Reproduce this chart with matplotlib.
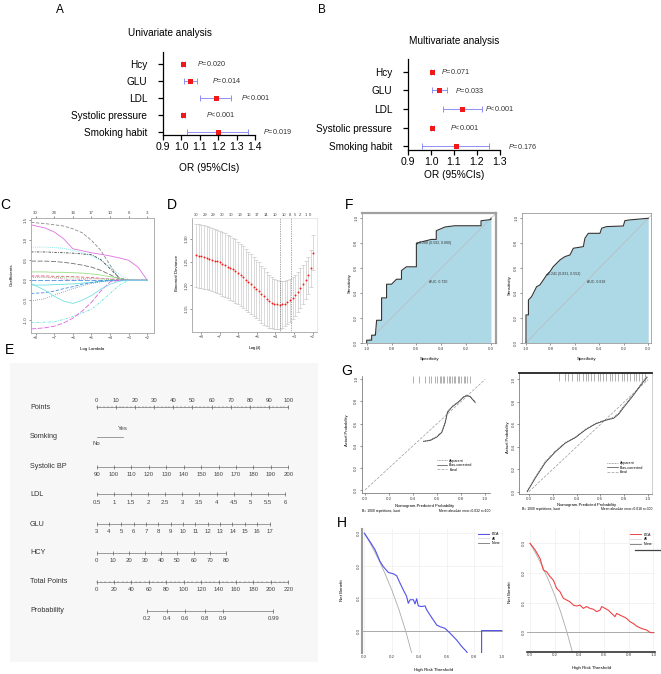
import numpy as np
import matplotlib
matplotlib.use('Agg')
import matplotlib.pyplot as plt
from matplotlib.lines import Line2D

plt.rcParams['font.family'] = ['Liberation Sans', 'DejaVu Sans']
plt.rcParams['mathtext.fontset'] = 'custom'
plt.rcParams['mathtext.rm'] = 'Liberation Sans'
plt.rcParams['mathtext.it'] = 'Liberation Sans:italic'

# ---------------- A / B : forest plots ----------------
forest_vars = ['Hcy', 'GLU', 'LDL', 'Systolic pressure', 'Smoking habit']
uni_or = [1.011, 1.045, 1.187, 1.011, 1.199]
uni_lo = [1.005, 1.015, 1.100, 1.005, 1.031]
uni_hi = [1.017, 1.085, 1.269, 1.017, 1.364]
uni_p = ['=0.020', '=0.014', '<0.001', '<0.001', '=0.019']
multi_or = [1.006, 1.035, 1.135, 1.006, 1.109]
multi_lo = [1.001, 1.003, 1.053, 1.001, 0.963]
multi_hi = [1.011, 1.070, 1.220, 1.011, 1.254]
multi_p = ['=0.071', '=0.033', '<0.001', '<0.001', '=0.176']

# ---------------- C : lasso coefficient paths ----------------
lasso_loglam = [-8.25, -7.5, -7, -6.5, -6, -5.5, -5, -4.5, -4, -3.5, -3, -2.5, -2]
path_pink1 = [1.39, 1.31, 1.21, 1.04, 0.79, 0.74, 0.69, 0.65, 0.61, 0.56, 0.50, 0.33, 0.0]
path_grey1 = [1.45, 1.42, 1.39, 1.36, 1.29, 1.19, 1.00, 0.75, 0.38, 0.02, 0, 0, 0]
path_cyan1 = [0.83, 0.83, 0.82, 0.80, 0.75, 0.69, 0.62, 0.50, 0.33, 0.14, 0.02, 0, 0]
path_black1 = [0.71, 0.71, 0.70, 0.69, 0.68, 0.66, 0.64, 0.52, 0.29, 0.06, 0, 0, 0]
path_grey2 = [0.48, 0.48, 0.47, 0.45, 0.42, 0.38, 0.33, 0.25, 0.14, 0.03, 0, 0, 0]
path_green1 = [0.21, 0.21, 0.20, 0.20, 0.19, 0.18, 0.16, 0.13, 0.09, 0.05, 0.01, 0, 0]
path_red1 = [0.11, 0.11, 0.10, 0.10, 0.09, 0.08, 0.07, 0.05, 0.03, 0.01, 0, 0, 0]
path_green2 = [0.07, 0.07, 0.07, 0.06, 0.06, 0.05, 0.04, 0.03, 0.02, 0.01, 0, 0, 0]
path_pink2 = [0.10, 0.09, 0.06, 0.03, 0.01, 0.02, 0.04, 0.05, 0.04, 0.02, 0, 0, 0]
path_blue0 = [0, 0, 0, 0, 0, 0, 0, 0, 0, 0, 0, 0, 0]
path_cyan2 = [-0.12, -0.12, -0.11, -0.10, -0.09, -0.07, -0.05, -0.03, -0.01, 0, 0, 0, 0]
path_blue1 = [-0.33, -0.31, -0.27, -0.21, -0.16, -0.10, -0.06, -0.02, 0, 0, 0, 0, 0]
path_blue2 = [-0.52, -0.46, -0.37, -0.29, -0.21, -0.14, -0.08, -0.04, -0.01, 0, 0, 0, 0]
path_cyan3 = [-1.06, -1.05, -1.04, -0.98, -0.91, -0.82, -0.72, -0.54, -0.33, -0.12, 0, 0, 0]
path_pink3 = [-1.22, -1.19, -1.15, -1.07, -0.95, -0.77, -0.55, -0.27, -0.04, 0, 0, 0, 0]
path_cyan4 = [-0.08, -0.25, -0.40, -0.52, -0.58, -0.50, -0.38, -0.22, -0.10, -0.02, 0, 0, 0]
lasso_top_ticks = [-8, -7, -6, -5, -4, -3, -2]
lasso_top_df = ['30', '24', '16', '17', '10', '6', '3']

# ---------------- D : cross-validation ----------------
cv_loglam = [-8.25, -8.11, -7.97, -7.83, -7.69, -7.55, -7.41, -7.27, -7.13, -6.99,
             -6.85, -6.71, -6.57, -6.43, -6.29, -6.15, -6.01, -5.87, -5.73, -5.59,
             -5.45, -5.31, -5.17, -5.03, -4.89, -4.75, -4.61, -4.47, -4.33, -4.19,
             -4.05, -3.91, -3.77, -3.63, -3.49, -3.35, -3.21, -3.07, -2.93, -2.79,
             -2.65, -2.51, -2.37, -2.23, -2.09, -1.95]
cv_dev = [1.264, 1.263, 1.262, 1.261, 1.259, 1.257, 1.255, 1.253, 1.251, 1.249,
          1.246, 1.243, 1.240, 1.237, 1.234, 1.230, 1.226, 1.222, 1.217, 1.212,
          1.207, 1.202, 1.197, 1.192, 1.187, 1.181, 1.176, 1.171, 1.166, 1.163,
          1.160, 1.159, 1.158, 1.159, 1.161, 1.164, 1.168, 1.173, 1.179, 1.186,
          1.194, 1.202, 1.211, 1.221, 1.236, 1.270]
cv_se = [0.068, 0.068, 0.068, 0.068, 0.068, 0.068, 0.068, 0.068, 0.068, 0.068,
         0.068, 0.068, 0.068, 0.068, 0.068, 0.068, 0.067, 0.066, 0.066, 0.065,
         0.065, 0.064, 0.063, 0.063, 0.062, 0.061, 0.060, 0.058, 0.057, 0.055,
         0.054, 0.053, 0.052, 0.050, 0.049, 0.047, 0.046, 0.045, 0.044, 0.043,
         0.043, 0.042, 0.041, 0.040, 0.039, 0.038]
cv_lambda_min = -3.77
cv_lambda_1se = -3.16
cv_top_loglam = [-8.25, -7.80, -7.32, -6.87, -6.37, -5.89, -5.44, -4.99, -4.49, -4.04,
                 -3.56, -3.20, -2.93, -2.66, -2.37, -2.12]
cv_top_nzero = ['30', '29', '29', '30', '30', '19', '16', '17', '14', '10',
                '10', '8', '5', '2', '1', '0']

# ---------------- E : nomogram ----------------
nomo_rows = ['Points', 'Somking', 'Systolic BP', 'LDL', 'GLU', 'HCY', 'Total Points', 'Probability']
points_ticks = [0, 10, 20, 30, 40, 50, 60, 70, 80, 90, 100]
smoke_levels = ['No', 'Yes']
smoke_yes_pts = 13.8
sbp_ticks = [90, 100, 110, 120, 130, 140, 150, 160, 170, 180, 190, 200]
sbp_max_pts = 100.0
ldl_ticks = [0.5, 1, 1.5, 2, 2.5, 3, 3.5, 4, 4.5, 5, 5.5, 6]
ldl_max_pts = 98.3
glu_ticks = [3, 4, 5, 6, 7, 8, 9, 10, 11, 12, 13, 14, 15, 16, 17]
glu_max_pts = 90.2
hcy_ticks = [0, 10, 20, 30, 40, 50, 60, 70, 80]
hcy_max_pts = 67.5
total_ticks = [0, 20, 40, 60, 80, 100, 120, 140, 160, 180, 200, 220]
prob_ticks = [0.2, 0.4, 0.6, 0.8, 0.9, 0.99]
prob_intercept = -3.745
prob_slope = 0.0411

# ---------------- F : ROC curves ----------------
roc1_spec = [1.0, 1.0, 0.96, 0.96, 0.93, 0.92, 0.88, 0.88, 0.84, 0.84, 0.80, 0.76, 0.72, 0.72,
             0.68, 0.64, 0.60, 0.60, 0.56, 0.48, 0.44, 0.44, 0.37, 0.29, 0.12, 0.08, 0.08, 0.0, 0.0]
roc1_sens = [0.0, 0.02, 0.02, 0.06, 0.06, 0.18, 0.18, 0.36, 0.36, 0.47, 0.47, 0.51, 0.51, 0.58,
             0.61, 0.61, 0.61, 0.80, 0.81, 0.83, 0.83, 0.90, 0.93, 0.94, 0.94, 0.94, 0.98, 0.99, 1.0]
roc2_spec = [1.0, 1.0, 0.98, 0.98, 0.954, 0.94, 0.913, 0.886, 0.858, 0.831, 0.804, 0.777, 0.722,
             0.681, 0.64, 0.613, 0.531, 0.518, 0.49, 0.395, 0.381, 0.341, 0.204, 0.191, 0.15, 0.0]
roc2_sens = [0.0, 0.223, 0.223, 0.343, 0.37, 0.397, 0.45, 0.464, 0.504, 0.544, 0.571, 0.611, 0.665,
             0.692, 0.705, 0.759, 0.772, 0.839, 0.879, 0.879, 0.92, 0.933, 0.938, 0.981, 0.987, 1.0]
roc1_thr = (0.592, 0.80)
roc2_thr = (0.831, 0.552)
roc1_thr_label = '0.288 (0.592, 0.800)'
roc2_thr_label = '0.241 (0.831, 0.552)'
roc1_auc = 'AUC: 0.720'
roc2_auc = 'AUC: 0.818'

# ---------------- G : calibration ----------------
ideal = [0.0, 1.0]
cal1_pred = [0.486, 0.542, 0.597, 0.639, 0.667, 0.686, 0.722, 0.778, 0.819, 0.847, 0.875, 0.917]
cal1_app = [0.437, 0.452, 0.482, 0.527, 0.617, 0.708, 0.753, 0.798, 0.843, 0.858, 0.849, 0.798]
cal1_bc = [0.440, 0.447, 0.478, 0.520, 0.605, 0.700, 0.748, 0.795, 0.838, 0.852, 0.842, 0.790]
cal1_rug = [0.40, 0.45, 0.50, 0.53, 0.55, 0.58, 0.60, 0.62, 0.63, 0.65, 0.66, 0.68, 0.70,
            0.71, 0.72, 0.74, 0.75, 0.77, 0.78, 0.80, 0.82, 0.83, 0.85, 0.87]
cal2_pred = [-0.014, 0.056, 0.140, 0.223, 0.307, 0.391, 0.475, 0.559, 0.642, 0.712, 0.754,
             0.796, 0.866, 0.922, 0.964, 0.992]
cal2_app = [0.009, 0.132, 0.271, 0.363, 0.440, 0.486, 0.557, 0.609, 0.640, 0.662, 0.702,
            0.763, 0.855, 0.932, 0.994, 1.03]
cal2_bc = [0.0, 0.125, 0.262, 0.356, 0.434, 0.483, 0.552, 0.604, 0.636, 0.655, 0.692,
           0.752, 0.845, 0.925, 0.985, 1.02]
cal2_rug = [0.25, 0.30, 0.33, 0.36, 0.40, 0.42, 0.45, 0.48, 0.50, 0.52, 0.55, 0.58, 0.60, 0.62,
            0.65, 0.68, 0.70, 0.72, 0.75, 0.78, 0.80, 0.82, 0.85, 0.88, 0.90, 0.92, 0.95, 0.97]

# ---------------- H : decision curves ----------------
all_thr = [0.0, 0.05, 0.10, 0.15, 0.20, 0.25, 0.30, 0.35, 0.40]
all_nb = [0.30, 0.263, 0.222, 0.176, 0.125, 0.067, 0.0, -0.077, -0.17]
dca1_thr = [0.0, 0.041, 0.078, 0.114, 0.138, 0.175, 0.211, 0.235, 0.26, 0.284, 0.308, 0.320,
            0.333, 0.357, 0.369, 0.381, 0.393, 0.417, 0.442, 0.454, 0.478, 0.502, 0.527, 0.551,
            0.587, 0.624, 0.672, 0.709, 0.745, 0.80, 0.854, 0.854, 1.0]
dca1_nb = [0.300, 0.274, 0.249, 0.213, 0.197, 0.179, 0.175, 0.169, 0.146, 0.125, 0.105, 0.084,
           0.095, 0.095, 0.082, 0.098, 0.076, 0.074, 0.076, 0.064, 0.048, 0.033, 0.017, 0.012,
           0.007, -0.008, -0.029, -0.049, -0.065, -0.12, -0.15, 0.0, 0.0]
dca2_thr = [0.0, 0.041, 0.081, 0.108, 0.135, 0.162, 0.189, 0.216, 0.243, 0.270, 0.297, 0.324,
            0.351, 0.378, 0.405, 0.432, 0.459, 0.486, 0.514, 0.541, 0.568, 0.581, 0.608, 0.635,
            0.662, 0.689, 0.703, 0.730, 0.757, 0.784, 0.811, 0.838, 0.865, 0.905, 0.946, 0.973, 1.0]
dca2_nb = [0.300, 0.278, 0.249, 0.210, 0.204, 0.188, 0.176, 0.148, 0.137, 0.115, 0.109, 0.103,
           0.092, 0.089, 0.092, 0.081, 0.087, 0.081, 0.078, 0.070, 0.075, 0.087, 0.081, 0.075,
           0.064, 0.053, 0.064, 0.058, 0.053, 0.047, 0.036, 0.030, 0.021, 0.013, 0.008, 0.0, -0.001]

# =====================================================================
W, H = 661, 674
fig = plt.figure(figsize=(W / 100, H / 100), dpi=100)


def px_axes(x0, y0, x1, y1):
    return fig.add_axes([x0 / W, 1 - y1 / H, (x1 - x0) / W, (y1 - y0) / H])


def ftext(x, y, s, **kw):
    kw.setdefault('ha', 'center')
    kw.setdefault('va', 'center')
    fig.text(x / W, 1 - y / H, s, **kw)


def r_style(ax, fs=3.2, color='#555555', lw=0.5):
    for s in ax.spines.values():
        s.set_linewidth(lw)
        s.set_color(color)
    ax.tick_params(labelsize=fs, length=1.5, width=0.4, pad=1, colors='#444444')


def forest(ax, ors, lo, hi, pvals, ptext_x, xmax):
    rows = np.arange(1, len(forest_vars) + 1)
    ors, lo, hi = np.array(ors), np.array(lo), np.array(hi)
    ax.errorbar(ors, rows, xerr=[ors - lo, hi - ors], fmt='none', ecolor='#7f7ff5',
                elinewidth=0.6, capsize=2, capthick=0.6)
    ax.plot(ors, rows, 's', color='#f01818', ms=3.6, mew=0)
    for r, p, x in zip(rows, pvals, ptext_x):
        ax.text(x, r, r'$\mathit{P}$' + p, fontsize=5.2, color='#333333',
                va='center', ha='left', clip_on=False)
    ax.set_xlim(0.9, xmax)
    ax.set_ylim(5.2, 0.32)
    ax.set_yticks(rows)
    ax.set_yticklabels(forest_vars, fontsize=7.2)
    xt = np.round(np.arange(0.9, xmax + 0.001, 0.1), 1)
    ax.set_xticks(xt)
    ax.set_xticklabels(['%.1f' % v for v in xt], fontsize=7.6)
    for s in ['top', 'right']:
        ax.spines[s].set_visible(False)
    ax.spines['left'].set_linewidth(0.9)
    ax.spines['bottom'].set_linewidth(0.9)
    ax.tick_params(axis='y', length=3.3, width=0.9, pad=8)
    ax.tick_params(axis='x', length=3.3, width=0.9, pad=1.5)


# ---- A ----
axA = px_axes(163, 52, 255, 135)
forest(axA, uni_or, uni_lo, uni_hi, uni_p, [1.085, 1.164, 1.322, 1.136, 1.445], 1.4)
ftext(170, 33, 'Univariate analysis', fontsize=7.2)
ftext(209, 168, 'OR (95%CIs)', fontsize=7.3)
ftext(60, 10, 'A', fontsize=8.5)

# ---- B ----
axB = px_axes(408, 59, 500, 150)
forest(axB, multi_or, multi_lo, multi_hi, multi_p, [1.042, 1.104, 1.235, 1.083, 1.336], 1.3)
ftext(454, 41, 'Multivariate analysis', fontsize=7.2)
ftext(454, 175, 'OR (95%CIs)', fontsize=7.3)
ftext(322, 10, 'B', fontsize=8.5)

# ---- C ----
axC = px_axes(31, 218, 154, 333)
c_paths = [(path_pink1, '#e070e0'), (path_grey1, '#8a8a8a'), (path_cyan1, '#66e0e0'),
           (path_black1, '#444444'), (path_grey2, '#707070'), (path_green1, '#99dd88'),
           (path_red1, '#e06677'), (path_green2, '#66bb55'), (path_pink2, '#ee99cc'),
           (path_blue0, '#4a90e0'), (path_cyan2, '#66e0e0'), (path_blue1, '#4a90e0'),
           (path_blue2, '#4a90e0'), (path_cyan3, '#66e0e0'), (path_pink3, '#e060e0'),
           (path_cyan4, '#77e0e0')]
styles = ['-', (0, (4, 2)), (0, (1, 1.5)), (0, (3, 1.5, 1, 1.5)), (0, (6, 2))]
for i, (path, col) in enumerate(c_paths):
    axC.plot(lasso_loglam, path, color=col, lw=0.6, ls=styles[i % len(styles)])
axC.set_xlim(-8.25, -1.64)
axC.set_ylim(-1.32, 1.56)
axC.set_xticks([-8, -7, -6, -5, -4, -3, -2])
axC.set_yticks([-1.0, -0.5, 0.0, 0.5, 1.0, 1.5])
axC.set_yticklabels(['-1.0', '-0.5', '0.0', '0.5', '1.0', '1.5'], rotation=90, va='center')
r_style(axC, color='#aaaaaa')
axC2 = axC.twiny()
axC2.set_xlim(axC.get_xlim())
axC2.set_xticks(lasso_top_ticks)
axC2.set_xticklabels(lasso_top_df)
r_style(axC2, color='#aaaaaa')
ftext(92, 349, 'Log Lambda', fontsize=3.2)
ftext(12, 275, 'Coefficients', fontsize=3.2, rotation=90)
ftext(5, 205, 'C', fontsize=10)

# ---- D ----
axD = px_axes(192, 218, 317, 332)
axD.errorbar(cv_loglam, cv_dev, yerr=cv_se, fmt='none', ecolor='#c4c4c4',
             elinewidth=0.45, capsize=1.2, capthick=0.45)
axD.plot(cv_loglam, cv_dev, 'o', color='#ff1a1a', ms=1.4, mew=0)
axD.axvline(cv_lambda_min, ls=(0, (1, 1.5)), lw=0.5, color='#555555')
axD.axvline(cv_lambda_1se, ls=(0, (1, 1.5)), lw=0.5, color='#555555')
axD.set_xlim(-8.48, -1.76)
axD.set_ylim(1.10, 1.344)
axD.set_xticks([-8, -7, -6, -5, -4, -3, -2])
axD.set_yticks([1.15, 1.20, 1.25, 1.30])
axD.set_yticklabels(['1.15', '1.20', '1.25', '1.30'], rotation=90, va='center')
r_style(axD, color='#aaaaaa')
axD.spines['top'].set_color('#e6e6e6')
axD.spines['right'].set_color('#e6e6e6')
axD2 = axD.twiny()
axD2.set_xlim(axD.get_xlim())
axD2.set_xticks(cv_top_loglam)
axD2.set_xticklabels(cv_top_nzero)
r_style(axD2, color='#aaaaaa')
axD2.spines['top'].set_color('#e6e6e6')
axD2.spines['right'].set_color('#e6e6e6')
axD2.tick_params(labelsize=3.0, length=0)
ftext(255, 348, r'Log($\lambda$)', fontsize=3.2)
ftext(177, 273, 'Binomial Deviance', fontsize=3.2, rotation=90)
ftext(172, 205, 'D', fontsize=10)

# ---- E : nomogram ----
axE = px_axes(10, 363, 318, 662)
axE.set_facecolor('#f7f7f7')
for s in axE.spines.values():
    s.set_visible(False)
axE.set_xticks([])
axE.set_yticks([])
axE.set_xlim(-45.2, 115.5)
axE.set_ylim(662, 363)

row_y = [407.3, 436.7, 466.7, 494.3, 524.0, 552.5, 581.8, 610.7]
for name, y in zip(nomo_rows, row_y):
    axE.text(-34.8, y, name, fontsize=5.2, color='#333333', va='center', ha='left')


def nomo_scale(y, pos, labels, above=False, minor=None):
    pos = np.asarray(pos, float)
    axE.plot([pos.min(), pos.max()], [y, y], color='#777777', lw=0.5)
    axE.plot(pos, [y] * len(pos), '|', color='#555555', ms=2.6, mew=0.45)
    if minor is not None:
        axE.plot(minor, [y] * len(minor), '|', color='#777777', ms=1.4, mew=0.35)
    dy = -6.3 if above else 7.7
    for p, lab in zip(pos, labels):
        axE.text(p, y + dy, lab, fontsize=4.3, color='#444444', ha='center', va='center')


def lin_pts(ticks, max_pts):
    t = np.asarray(ticks, float)
    return (t - t.min()) / (t.max() - t.min()) * max_pts


nomo_scale(row_y[0], points_ticks, [str(v) for v in points_ticks], above=True,
           minor=np.arange(0, 101, 2))
axE.plot([0, smoke_yes_pts], [row_y[1], row_y[1]], color='#777777', lw=0.5)
axE.text(smoke_yes_pts, row_y[1] - 8.4, smoke_levels[1], fontsize=4.3, color='#444444', ha='center', va='center')
axE.text(0, row_y[1] + 6.6, smoke_levels[0], fontsize=4.3, color='#444444', ha='center', va='center')
nomo_scale(row_y[2], lin_pts(sbp_ticks, sbp_max_pts), [str(v) for v in sbp_ticks])
nomo_scale(row_y[3], lin_pts(ldl_ticks, ldl_max_pts), ['%g' % v for v in ldl_ticks])
nomo_scale(row_y[4], lin_pts(glu_ticks, glu_max_pts), [str(v) for v in glu_ticks])
nomo_scale(row_y[5], lin_pts(hcy_ticks, hcy_max_pts), [str(v) for v in hcy_ticks])
tot_scale = 100.0 / max(total_ticks)
nomo_scale(row_y[6], np.array(total_ticks) * tot_scale, [str(v) for v in total_ticks],
           minor=np.arange(0, 221, 5) * tot_scale)
prob_arr = np.array(prob_ticks)
prob_pts = (np.log(prob_arr / (1 - prob_arr)) - prob_intercept) / prob_slope * tot_scale
nomo_scale(row_y[7], prob_pts, ['%g' % v for v in prob_ticks])
ftext(10, 350, 'E', fontsize=10)


# ---- F : ROC ----
def roc_panel(ax, spec, sens, thr, thr_label, auc_label, xl, yl):
    ax.fill_between(spec, sens, 0, color='#add8e6', lw=0)
    ax.plot([1.3, -0.3], [-0.3, 1.3], color='#bbbbbb', lw=0.5)
    ax.plot(spec, sens, color='#333333', lw=0.8)
    ax.plot([thr[0]], [thr[1]], 'o', color='#333333', ms=1.2, mew=0)
    ax.text(thr[0] - 0.015, thr[1], thr_label, fontsize=2.5, va='center', ha='left', color='#333333')
    ax.text(0.50, 0.49, auc_label, fontsize=2.5, va='center', ha='left', color='#333333')
    ax.set_xlim(xl)
    ax.set_ylim(yl)
    ax.set_xticks([1.0, 0.8, 0.6, 0.4, 0.2, 0.0])
    ax.set_xticklabels(['1.0', '0.8', '0.6', '0.4', '0.2', '0.0'])
    ax.set_yticks([0.0, 0.2, 0.4, 0.6, 0.8, 1.0])
    ax.set_yticklabels(['0.0', '0.2', '0.4', '0.6', '0.8', '1.0'], rotation=90, va='center')
    r_style(ax, color='#888888')


axF1 = px_axes(361.7, 213.3, 495.7, 343.3)
roc_panel(axF1, roc1_spec, roc1_sens, roc1_thr, roc1_thr_label, roc1_auc, (1.04, -0.038), (-0.005, 1.04))
axF1.spines['top'].set_linewidth(1.6)
axF1.spines['right'].set_linewidth(1.6)
axF1.spines['top'].set_color('#a0a0a0')
axF1.spines['right'].set_color('#a0a0a0')
axF2 = px_axes(521.7, 213.3, 650.7, 343.3)
roc_panel(axF2, roc2_spec, roc2_sens, roc2_thr, roc2_thr_label, roc2_auc, (1.035, -0.02), (-0.005, 1.04))
ftext(430, 359, 'Specificity', fontsize=3.2)
ftext(587, 359, 'Specificity', fontsize=3.2)
ftext(350, 283, 'Sensitivity', fontsize=3.2, rotation=90)
ftext(510, 285, 'Sensitivity', fontsize=3.2, rotation=90)
ftext(349, 205, 'F', fontsize=10)


# ---- G : calibration ----
def cal_panel(ax, pred, app, bc, rug, xl, yl, legend_xy):
    ax.plot(ideal, ideal, ls=(0, (4, 2)), color='#999999', lw=0.5)
    ax.plot(pred, app, ls=(0, (1, 1.2)), color='#555555', lw=0.6)
    ax.plot(pred, bc, ls='-', color='#444444', lw=0.6)
    ax.vlines(rug, 0.94, 1.0, transform=ax.get_xaxis_transform(), color='#777777', lw=0.4)
    ax.set_xlim(xl)
    ax.set_ylim(yl)
    ticks = [0.0, 0.2, 0.4, 0.6, 0.8, 1.0]
    ax.set_xticks(ticks)
    ax.set_xticklabels(['%.1f' % t for t in ticks])
    ax.set_yticks(ticks)
    ax.set_yticklabels(['%.1f' % t for t in ticks], rotation=90, va='center')
    handles = [Line2D([], [], ls=(0, (1, 1.2)), color='#555555', lw=0.5),
               Line2D([], [], ls='-', color='#444444', lw=0.5),
               Line2D([], [], ls=(0, (4, 2)), color='#999999', lw=0.5)]
    ax.legend(handles, ['Apparent', 'Bias-corrected', 'Ideal'], fontsize=2.6, frameon=False,
              loc='upper left', bbox_to_anchor=legend_xy, bbox_transform=ax.transData,
              handlelength=3, labelspacing=0.15, borderpad=0, handletextpad=0.5)
    r_style(ax, color='#666666')


axG1 = px_axes(361.7, 376, 490, 493.3)
cal_panel(axG1, cal1_pred, cal1_app, cal1_bc, cal1_rug, (-0.0275, 1.04), (-0.03, 1.03), (0.58, 0.30))
axG1.spines['top'].set_visible(False)
axG1.spines['right'].set_visible(False)
axG2 = px_axes(519.3, 373.3, 651.7, 494)
cal_panel(axG2, cal2_pred, cal2_app, cal2_bc, cal2_rug, (-0.08, 1.03), (-0.02, 1.055), (0.64, 0.29))
axG2.spines['top'].set_linewidth(1.3)
axG2.spines['top'].set_color('#222222')
axG2.spines['right'].set_color('#bbbbbb')
ftext(425, 506, 'Nomogram-Predicted Probability', fontsize=3.0)
ftext(587, 505, 'Nomogram-Predicted Probability', fontsize=3.0)
ftext(347, 430, 'Actual Probability', fontsize=3.0, rotation=90)
ftext(508, 437, 'Actual Probability', fontsize=3.0, rotation=90)
ftext(362, 511, 'B= 1000 repetitions, boot', fontsize=2.4, ha='left')
ftext(490, 511, 'Mean absolute error=0.032 n=100', fontsize=2.4, ha='right')
ftext(522, 509, 'B= 1000 repetitions, boot', fontsize=2.4, ha='left')
ftext(652, 509, 'Mean absolute error=0.018 n=300', fontsize=2.4, ha='right')
ftext(347, 371, 'G', fontsize=10)


# ---- H : decision curves ----
def dca_panel(ax, thr, nb, col, xl, yl):
    ax.grid(True, color='#eeeeee', lw=0.5)
    ax.set_axisbelow(True)
    ax.axhline(0, color='#aaaaaa', lw=0.7)
    ax.plot(all_thr, all_nb, color='#aaaaaa', lw=0.6)
    ax.plot(thr, nb, color=col, lw=0.8)
    ax.set_xlim(xl)
    ax.set_ylim(yl)
    xt = [0.0, 0.2, 0.4, 0.6, 0.8, 1.0]
    ax.set_xticks(xt)
    ax.set_xticklabels(['%.1f' % t for t in xt])
    yt = [0.0, 0.1, 0.2, 0.3]
    ax.set_yticks(yt)
    ax.set_yticklabels(['%.1f' % t for t in yt], rotation=90, va='center')
    r_style(ax)
    ax.tick_params(length=0)
    for s in ax.spines.values():
        s.set_visible(False)
    handles = [Line2D([], [], color=col, lw=0.7), Line2D([], [], color='#dddddd', lw=0.7),
               Line2D([], [], color='#888888', lw=0.7)]
    return ax.legend(handles, ['DCA', 'All', 'None'], fontsize=2.6, frameon=False, loc='upper right',
                     handlelength=3, labelspacing=0.2, borderaxespad=0.3)


axH1 = px_axes(362.3, 529.3, 503.3, 653.3)
dca_panel(axH1, dca1_thr, dca1_nb, '#5050ee', (-0.015, 1.012), (-0.07, 0.312))
axH1.spines['left'].set_visible(True)
axH1.spines['left'].set_color('#9a9a9a')
axH1.spines['left'].set_linewidth(1.5)
axH2 = px_axes(527, 530, 655, 651.7)
dca_panel(axH2, dca2_thr, dca2_nb, '#ee4444', (-0.025, 1.014), (-0.065, 0.345))
axH2.spines['bottom'].set_visible(True)
axH2.spines['bottom'].set_color('#333333')
axH2.spines['bottom'].set_linewidth(1.2)
fig.add_artist(Line2D([635 / W, 662 / W], [1 - 550 / H, 1 - 550 / H], color='#444444', lw=0.9))
ftext(433, 670, 'High Risk Threshold', fontsize=3.2)
ftext(592, 668, 'High Risk Threshold', fontsize=3.2)
ftext(342, 590, 'Net Benefit', fontsize=3.2, rotation=90)
ftext(510, 592, 'Net Benefit', fontsize=3.2, rotation=90)
ftext(342, 523, 'H', fontsize=10)

fig.savefig('out.png', dpi=100, facecolor='white')
